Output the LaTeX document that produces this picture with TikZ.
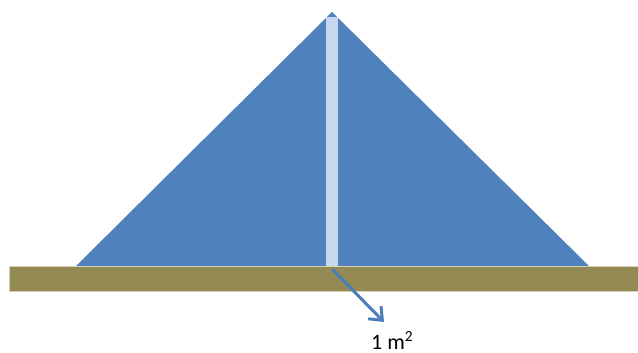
\documentclass[tikz,border=0pt]{standalone}
\usepackage{fontspec}
\setmainfont{Carlito}
\usetikzlibrary{arrows.meta}
\definecolor{pyr}{HTML}{4F81BD}
\definecolor{col}{HTML}{C6D9F1}
\definecolor{ground}{HTML}{948A54}
\definecolor{groundedge}{HTML}{D8D2B4}
\definecolor{arr}{HTML}{4A7EBB}
\tikzset{
  pyramid/.style={fill=pyr, draw=none},
  column/.style={fill=col, draw=none},
  groundbar/.style={fill=ground, draw=groundedge, line width=0.8pt},
  flow/.style={draw=arr, line width=3pt, -{Straight Barb[length=11pt,width=18pt,line width=3pt]}},
  lbl/.style={font=\fontsize{22}{26}\selectfont, inner sep=0pt, anchor=base west}
}
\begin{document}
\begin{tikzpicture}[x=1pt,y=-1pt]
\useasboundingbox (0,0) rectangle (638,353);
\fill[pyramid] (332,12) -- (590,267) -- (75,267) -- cycle;
\fill[column] (326,17) rectangle (338,267);
\draw[groundbar] (9.5,266.5) rectangle (639,291.5);
\coordinate (s) at (332,269);
\coordinate (e) at (384,322);
\draw[flow] (s) -- (e);
\node[lbl] (t) at (371,349.5) {1 m\textsuperscript{2}};
\end{tikzpicture}
\end{document}
